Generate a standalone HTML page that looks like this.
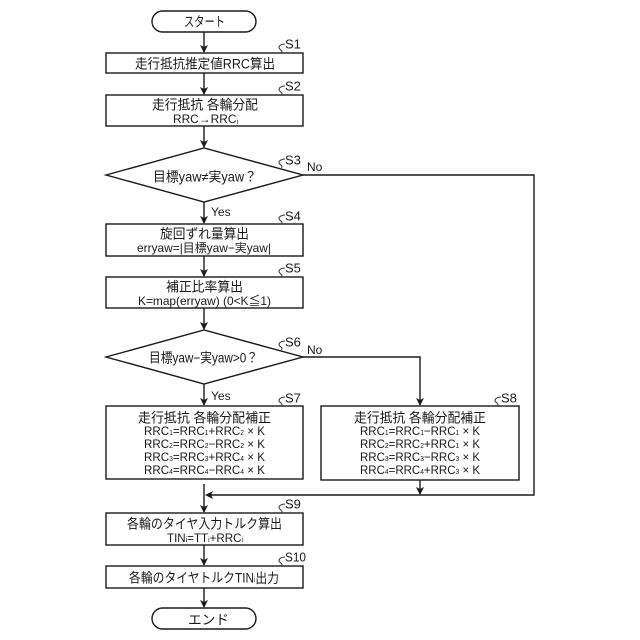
<!DOCTYPE html>
<html><head><meta charset="utf-8"><style>
html,body{margin:0;padding:0;background:#fff}
svg{display:block}
text{font-family:"Liberation Sans","Noto Sans CJK JP",sans-serif;fill:#1a1a1a;text-anchor:start;dominant-baseline:central}
.j{font-size:13.5px}
.m{font-size:12px}
.l{font-size:13px}
.y{font-size:12px}
tspan.s{font-size:7px}
.b{fill:#fff;stroke:#1a1a1a;stroke-width:1.4}
.c{fill:none;stroke:#1a1a1a;stroke-width:1.4}
.q{fill:none;stroke:#333;stroke-width:1}
.a{fill:#1a1a1a;stroke:none}
</style></head><body>
<svg width="640" height="640" viewBox="0 0 640 640" xmlns="http://www.w3.org/2000/svg">
<defs>
<path id="d" d="M0 0L-4 -8L0 -6L4 -8Z"/>
<path id="q" d="M4 -9C0 -9 -2 -7 -2 -5.5C-2 -3.5 1 -3 1 -1.5L0.5 0"/>
</defs>

<!-- connectors -->
<g class="c">
<path d="M204 32V52"/><path d="M204 73V94"/><path d="M204 126V147"/><path d="M204 202V223"/>
<path d="M204 256V276"/><path d="M204 308V329"/><path d="M204 384V405"/><path d="M204 484V512"/>
<path d="M204 545V565"/><path d="M204 588V607"/>
<path d="M303 175H534V495H208"/>
<path d="M303 357H420V405"/>
<path d="M420 480V494"/>
</g>
<g class="a">
<use href="#d" x="204" y="53"/><use href="#d" x="204" y="95"/><use href="#d" x="204" y="148"/>
<use href="#d" x="204" y="224"/><use href="#d" x="204" y="277"/><use href="#d" x="204" y="330"/>
<use href="#d" x="204" y="406"/><use href="#d" x="204" y="513"/><use href="#d" x="204" y="566"/>
<use href="#d" x="204" y="608"/><use href="#d" x="420" y="406"/><use href="#d" x="420" y="495"/>
<path d="M205 495L213 491L211 495L213 499Z"/>
</g>

<!-- shapes -->
<rect class="b" x="152" y="11" width="104" height="21" rx="10.5"/>
<rect class="b" x="106" y="53" width="197" height="20"/>
<rect class="b" x="106" y="95" width="197" height="31"/>
<path class="b" d="M106 175L204 148L303 175L204 202Z"/>
<rect class="b" x="106" y="224" width="197" height="32"/>
<rect class="b" x="106" y="277" width="197" height="31"/>
<path class="b" d="M106 357L204 330L303 357L204 384Z"/>
<rect class="b" x="106" y="406" width="197" height="73"/>
<rect class="b" x="321" y="406" width="198" height="74"/>
<rect class="b" x="106" y="513" width="197" height="32"/>
<rect class="b" x="106" y="566" width="197" height="22"/>
<rect class="b" x="152" y="608" width="104" height="21" rx="10.5"/>

<!-- step squiggles -->
<g class="q">
<use href="#q" x="281" y="53"/><use href="#q" x="281" y="95"/><use href="#q" x="281" y="168"/>
<use href="#q" x="281" y="224"/><use href="#q" x="281" y="277"/><use href="#q" x="281" y="350"/>
<use href="#q" x="281" y="406"/><use href="#q" x="497" y="406"/><use href="#q" x="281" y="513"/>
<use href="#q" x="281" y="566"/>
</g>

<!-- step labels -->
<text class="l" x="285" y="44">S1</text>
<text class="l" x="285" y="86">S2</text>
<text class="l" x="285" y="160">S3</text>
<text class="l" x="285" y="216">S4</text>
<text class="l" x="285" y="268">S5</text>
<text class="l" x="285" y="342">S6</text>
<text class="l" x="285" y="398">S7</text>
<text class="l" x="501" y="398">S8</text>
<text class="l" x="285" y="504">S9</text>
<text class="l" x="285" y="557" textLength="21" lengthAdjust="spacingAndGlyphs">S10</text>
<text class="y" x="307" y="167">No</text>
<text class="y" x="307" y="350">No</text>
<text class="y" x="211" y="212">Yes</text>
<text class="y" x="211" y="396">Yes</text>

<!-- node text -->
<text class="j" x="184" y="22" textLength="41" lengthAdjust="spacingAndGlyphs">スタート</text>
<text class="j" x="135" y="64" textLength="140" lengthAdjust="spacingAndGlyphs">走行抵抗推定値RRC算出</text>
<text class="j" x="152" y="105" textLength="106" lengthAdjust="spacingAndGlyphs">走行抵抗 各輪分配</text>
<text class="m" x="173" y="119" textLength="65" lengthAdjust="spacingAndGlyphs">RRC→RRC<tspan class="s" dy="3">i</tspan></text>
<text class="j" x="153" y="177" textLength="104" lengthAdjust="spacingAndGlyphs">目標yaw≠実yaw？</text>
<text class="j" x="160" y="234" textLength="89" lengthAdjust="spacingAndGlyphs">旋回ずれ量算出</text>
<text class="m" x="137" y="248" textLength="134" lengthAdjust="spacingAndGlyphs">erryaw=|目標yaw−実yaw|</text>
<text class="j" x="166" y="287" textLength="77" lengthAdjust="spacingAndGlyphs">補正比率算出</text>
<text class="m" x="138" y="301" textLength="133" lengthAdjust="spacingAndGlyphs">K=map(erryaw) (0&lt;K≦1)</text>
<text class="j" x="149" y="358" textLength="109" lengthAdjust="spacingAndGlyphs">目標yaw−実yaw&gt;0？</text>

<text class="j" x="138" y="418" textLength="133" lengthAdjust="spacingAndGlyphs">走行抵抗 各輪分配補正</text>
<text class="m" x="144" y="431" textLength="121" lengthAdjust="spacingAndGlyphs">RRC<tspan class="s" dy="2">1</tspan><tspan dy="-2">=RRC</tspan><tspan class="s" dy="2">1</tspan><tspan dy="-2">+RRC</tspan><tspan class="s" dy="2">2</tspan><tspan dy="-2"> × K</tspan></text>
<text class="m" x="144" y="444" textLength="121" lengthAdjust="spacingAndGlyphs">RRC<tspan class="s" dy="2">2</tspan><tspan dy="-2">=RRC</tspan><tspan class="s" dy="2">2</tspan><tspan dy="-2">−RRC</tspan><tspan class="s" dy="2">2</tspan><tspan dy="-2"> × K</tspan></text>
<text class="m" x="144" y="457" textLength="121" lengthAdjust="spacingAndGlyphs">RRC<tspan class="s" dy="2">3</tspan><tspan dy="-2">=RRC</tspan><tspan class="s" dy="2">3</tspan><tspan dy="-2">+RRC</tspan><tspan class="s" dy="2">4</tspan><tspan dy="-2"> × K</tspan></text>
<text class="m" x="144" y="470" textLength="121" lengthAdjust="spacingAndGlyphs">RRC<tspan class="s" dy="2">4</tspan><tspan dy="-2">=RRC</tspan><tspan class="s" dy="2">4</tspan><tspan dy="-2">−RRC</tspan><tspan class="s" dy="2">4</tspan><tspan dy="-2"> × K</tspan></text>

<text class="j" x="354" y="418" textLength="132" lengthAdjust="spacingAndGlyphs">走行抵抗 各輪分配補正</text>
<text class="m" x="360" y="431" textLength="120" lengthAdjust="spacingAndGlyphs">RRC<tspan class="s" dy="2">1</tspan><tspan dy="-2">=RRC</tspan><tspan class="s" dy="2">1</tspan><tspan dy="-2">−RRC</tspan><tspan class="s" dy="2">1</tspan><tspan dy="-2"> × K</tspan></text>
<text class="m" x="360" y="444" textLength="120" lengthAdjust="spacingAndGlyphs">RRC<tspan class="s" dy="2">2</tspan><tspan dy="-2">=RRC</tspan><tspan class="s" dy="2">2</tspan><tspan dy="-2">+RRC</tspan><tspan class="s" dy="2">1</tspan><tspan dy="-2"> × K</tspan></text>
<text class="m" x="360" y="457" textLength="120" lengthAdjust="spacingAndGlyphs">RRC<tspan class="s" dy="2">3</tspan><tspan dy="-2">=RRC</tspan><tspan class="s" dy="2">3</tspan><tspan dy="-2">−RRC</tspan><tspan class="s" dy="2">3</tspan><tspan dy="-2"> × K</tspan></text>
<text class="m" x="360" y="470" textLength="120" lengthAdjust="spacingAndGlyphs">RRC<tspan class="s" dy="2">4</tspan><tspan dy="-2">=RRC</tspan><tspan class="s" dy="2">4</tspan><tspan dy="-2">+RRC</tspan><tspan class="s" dy="2">3</tspan><tspan dy="-2"> × K</tspan></text>

<text class="j" x="127" y="524" textLength="155" lengthAdjust="spacingAndGlyphs">各輪のタイヤ入力トルク算出</text>
<text class="m" x="167" y="538" textLength="76" lengthAdjust="spacingAndGlyphs">TIN<tspan class="s" dy="2">i</tspan><tspan dy="-2">=TT</tspan><tspan class="s" dy="2">i</tspan><tspan dy="-2">+RRC</tspan><tspan class="s" dy="2">i</tspan></text>
<text class="j" x="129" y="578" textLength="150" lengthAdjust="spacingAndGlyphs">各輪のタイヤトルクTIN<tspan class="s" dy="2">i</tspan><tspan dy="-2">出力</tspan></text>
<text class="j" x="188" y="620" textLength="41" lengthAdjust="spacingAndGlyphs">エンド</text>
</svg>
</body></html>
